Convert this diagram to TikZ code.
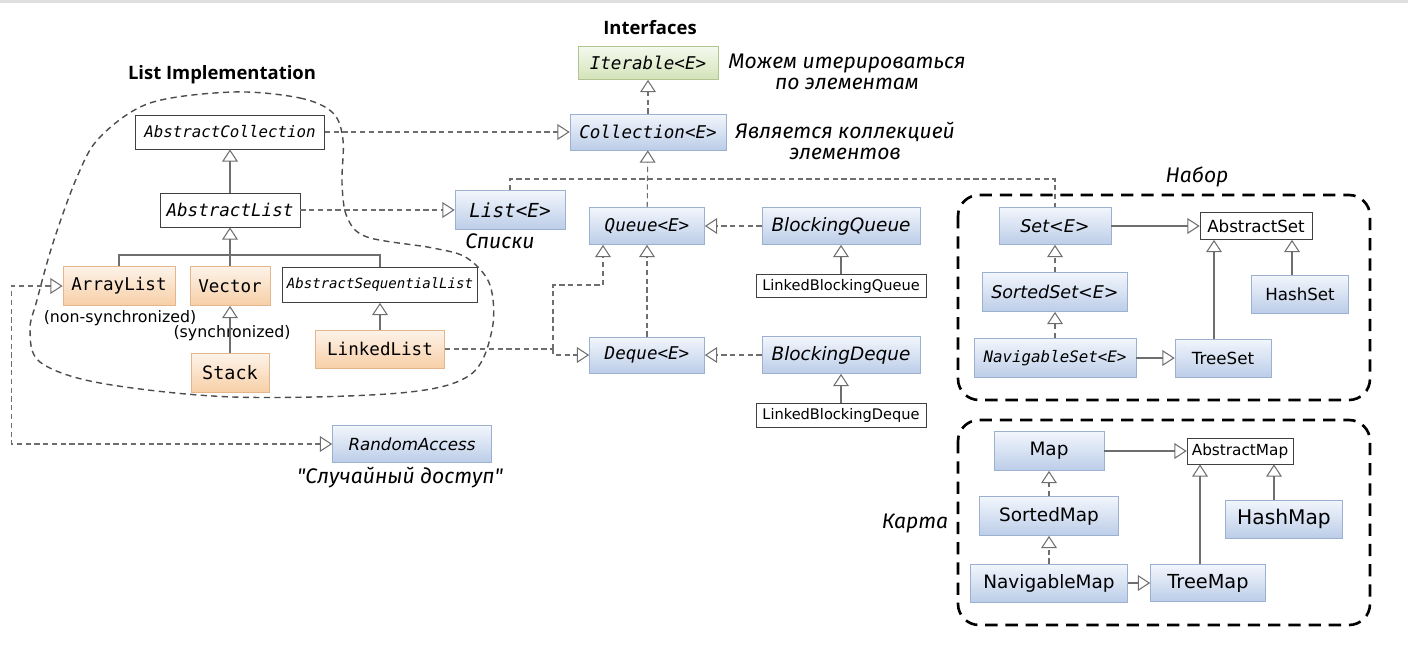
\documentclass[tikz,border=0pt]{standalone}
\usepackage{fontspec}
\setmainfont{DejaVu Sans}
\setmonofont{DejaVu Sans Mono}
\newfontfamily\headfont{Open Sans}
\newfontfamily\handfont{Fira Sans}
\usetikzlibrary{arrows.meta,calc}
\newcommand{\fsz}[1]{\fontsize{#1}{#1}\selectfont}

\definecolor{ifacetop}{HTML}{F2F6FC}
\definecolor{ifacebot}{HTML}{BCCDE8}
\definecolor{ifaceline}{HTML}{9CB0D0}
\definecolor{impltop}{HTML}{FDF3EA}
\definecolor{implbot}{HTML}{F7CFA6}
\definecolor{implline}{HTML}{E3B68E}
\definecolor{roottop}{HTML}{F5F9EE}
\definecolor{rootbot}{HTML}{D3E3B8}
\definecolor{rootline}{HTML}{AFC48F}
\definecolor{linkgray}{HTML}{6E6E6E}

\tikzset{
  head/.style={font=\headfont\bfseries\fsz{10.5}},
  hand/.style={font=\handfont\itshape\fontsize{12}{12}\selectfont, align=center},
  ifacebox/.style={draw=ifaceline, top color=ifacetop, bottom color=ifacebot,
    minimum height=0.74cm, inner sep=1pt},
  implbox/.style={draw=implline, top color=impltop, bottom color=implbot,
    minimum height=0.78cm, inner sep=1pt},
  rootbox/.style={draw=rootline, top color=roottop, bottom color=rootbot,
    minimum height=0.66cm, inner sep=1pt},
  absbox/.style={draw=black!75, fill=white, minimum height=0.68cm, inner sep=1pt},
  tri/.tip={Triangle[open,length=7pt,width=9pt]},
  solidline/.style={draw=linkgray, line width=0.6pt},
  dashline/.style={solidline, dash pattern=on 3pt off 2pt},
  extends/.style={solidline, -tri},
  realizes/.style={dashline, -tri},
  group/.style={draw=black, line width=1.5pt, dash pattern=on 7pt off 4.5pt, rounded corners=12pt},
  blob/.style={draw=black!70, line width=0.8pt, dash pattern=on 3.5pt off 2.5pt},
}

\begin{document}
\begin{tikzpicture}[x=0.02cm, y=-0.02cm]
  \useasboundingbox (0,0) rectangle (1408,656);
  \fill[gray!25] (0,0) rectangle (1408,3);

  % headings
  \node[head] (ifhead) at (650,28) {Interfaces};
  \node[head] (lihead) at (222,75) {List Implementation};

  % interfaces
  \node[rootbox, minimum width=2.8cm, font=\ttfamily\itshape\fsz{10}] (iterable) at (648,63) {Iterable<E>};
  \node[ifacebox, minimum width=3.12cm, minimum height=0.72cm, font=\ttfamily\itshape\fsz{10}] (collection) at (648,132) {Collection<E>};
  \node[ifacebox, minimum width=2.2cm, minimum height=0.78cm, font=\ttfamily\itshape\fsz{11}] (list) at (510,210) {List<E>};
  \node[ifacebox, minimum width=2.3cm, font=\ttfamily\itshape\fsz{10}] (queue) at (647,226) {Queue<E>};
  \node[ifacebox, minimum width=2.3cm, minimum height=0.72cm, font=\ttfamily\itshape\fsz{10}] (deque) at (647,355) {Deque<E>};
  \node[ifacebox, minimum width=3.16cm, font=\itshape\fsz{10.5}] (bqueue) at (841,226) {BlockingQueue};
  \node[ifacebox, minimum width=3.16cm, font=\itshape\fsz{10.5}] (bdeque) at (841,355) {BlockingDeque};
  \node[absbox, minimum width=3.4cm, minimum height=0.46cm, font=\fsz{8.3}] (lbqueue) at (841,286) {LinkedBlockingQueue};
  \node[absbox, minimum width=3.4cm, minimum height=0.48cm, font=\fsz{8.3}] (lbdeque) at (841,415) {LinkedBlockingDeque};
  \node[ifacebox, minimum width=3.18cm, font=\itshape\fsz{9.5}] (randacc) at (412,444) {RandomAccess};

  \node[hand] (iterlbl) at (847,72) {Можем итерироваться\\по элементам};
  \node[hand] (colllbl) at (845,141) {Является коллекцией\\элементов};
  \node[hand] (listlbl) at (500,241) {Списки};
  \node[hand] (randlbl) at (400,478) {"Случайный доступ"};

  % list implementation
  \node[absbox, minimum width=3.78cm, font=\ttfamily\itshape\fsz{9}] (abscoll) at (230,132) {AbstractCollection};
  \node[absbox, minimum width=2.8cm, font=\ttfamily\itshape\fsz{10}] (abslist) at (230,210) {AbstractList};
  \node[implbox, minimum width=2.24cm, font=\ttfamily\fsz{10}] (arraylist) at (119,286) {ArrayList};
  \node[implbox, minimum width=1.6cm, font=\ttfamily\fsz{10}] (vector) at (230,286) {Vector};
  \node[absbox, minimum width=3.9cm, minimum height=0.7cm, font=\ttfamily\itshape\fsz{8}] (absseq) at (380,285) {AbstractSequentialList};
  \node[implbox, minimum width=1.56cm, font=\ttfamily\fsz{10.5}] (stack) at (230,373) {Stack};
  \node[implbox, minimum width=2.58cm, minimum height=0.76cm, font=\ttfamily\fsz{10}] (linkedlist) at (380,349) {LinkedList};
  \node[font=\fsz{9}] (nonsync) at (120,318) {(non-synchronized)};
  \node[font=\fsz{9}] (sync) at (232,333) {(synchronized)};

  \draw[blob] plot[smooth cycle, tension=0.55] coordinates {
    (233,92) (300,98) (333,113) (343,140) (342,183) (347,217) (367,237)
    (433,248) (467,258) (490,285) (492,330) (470,375) (400,393) (233,397)
    (100,383) (40,362) (30,330) (37,300) (53,243) (77,177) (100,137) (150,103)};

  % set group
  \draw[group] (958,195) rectangle (1370,400);
  \node[hand] (setlbl) at (1197,177) {Набор};
  \node[ifacebox, minimum width=2.24cm, font=\itshape\fsz{10}] (set) at (1055,226) {Set<E>};
  \node[absbox, minimum width=2.24cm, minimum height=0.54cm, font=\fsz{9.5}] (absset) at (1256,226) {AbstractSet};
  \node[ifacebox, minimum width=2.9cm, minimum height=0.78cm, font=\itshape\fsz{10}] (sortedset) at (1055,292) {SortedSet<E>};
  \node[ifacebox, minimum width=1.94cm, minimum height=0.76cm, font=\fsz{9.5}] (hashset) at (1300,294) {HashSet};
  \node[ifacebox, minimum width=3.24cm, minimum height=0.78cm, font=\ttfamily\itshape\fsz{9}] (navset) at (1055,358) {NavigableSet<E>};
  \node[ifacebox, minimum width=1.92cm, minimum height=0.76cm, font=\fsz{9.5}] (treeset) at (1223,358) {TreeSet};

  % map group
  \draw[group] (958,420) rectangle (1370,625);
  \node[hand] (maplbl) at (915,523) {Карта};
  \node[ifacebox, minimum width=2.2cm, minimum height=0.78cm, font=\fsz{10.5}] (map) at (1049,451) {Map};
  \node[absbox, minimum width=2.12cm, minimum height=0.52cm, font=\fsz{8.7}] (absmap) at (1240,451) {AbstractMap};
  \node[ifacebox, minimum width=2.78cm, minimum height=0.78cm, font=\fsz{10.5}] (sortedmap) at (1049,516) {SortedMap};
  \node[ifacebox, minimum width=2.34cm, minimum height=0.76cm, font=\fsz{11.5}] (hashmap) at (1284,519) {HashMap};
  \node[ifacebox, minimum width=3.14cm, minimum height=0.76cm, font=\fsz{10.5}] (navmap) at (1049,583) {NavigableMap};
  \node[ifacebox, minimum width=2.3cm, font=\fsz{11}] (treemap) at (1208,583) {TreeMap};

  % interface links
  \coordinate (bus) at (648,179);
  \draw[realizes] (collection) -- (iterable);
  \draw[realizes] (queue) -- (collection);
  \draw[dashline] (list.north) -- (list.north |- bus) -- (set.north |- bus) -- (set.north);
  \draw[realizes] (abscoll) -- (collection);
  \draw[realizes] (abslist) -- (list);
  \draw[realizes] (deque) -- (queue);
  \draw[realizes] (bqueue) -- (queue);
  \draw[realizes] (bdeque) -- (deque);
  \draw[extends] (lbqueue) -- (bqueue);
  \draw[extends] (lbdeque) -- (bdeque);

  % list tree
  \coordinate (lbus) at (230,255);
  \draw[extends] (abslist) -- (abscoll);
  \draw[extends] (vector) -- (abslist);
  \draw[solidline] (arraylist.north) |- (lbus) -| (absseq.north);
  \draw[extends] (stack) -- (vector);
  \draw[extends] (linkedlist) -- (absseq);

  \coordinate (lljoin) at (553,349);
  \draw[dashline] (linkedlist) -- (lljoin);
  \draw[realizes] (lljoin) |- (deque.west);
  \draw[realizes] (lljoin) -- ++(0,-64) -| ($(queue.south)+(-44,0)$);
  \draw[dashline, tri-tri] (arraylist.west) -- ++(-51,0) |- (randacc.west);

  % set links
  \draw[extends] (set) -- (absset);
  \draw[realizes] (sortedset) -- (set);
  \draw[realizes] (navset) -- (sortedset);
  \draw[extends] (navset) -- (treeset);
  \draw[extends] ($(treeset.north)+(-9,0)$) -- ($(treeset.north |- absset.south)+(-9,0)$);
  \draw[extends] ($(hashset.north)+(-8,0)$) -- ($(hashset.north |- absset.south)+(-8,0)$);

  % map links
  \draw[extends] (map) -- (absmap);
  \draw[realizes] (sortedmap) -- (map);
  \draw[realizes] (navmap) -- (sortedmap);
  \draw[extends] (navmap) -- (treemap);
  \draw[extends] ($(treemap.north)+(-8,0)$) -- ($(treemap.north |- absmap.south)+(-8,0)$);
  \draw[extends] ($(hashmap.north)+(-10,0)$) -- ($(hashmap.north |- absmap.south)+(-10,0)$);
\end{tikzpicture}
\end{document}
